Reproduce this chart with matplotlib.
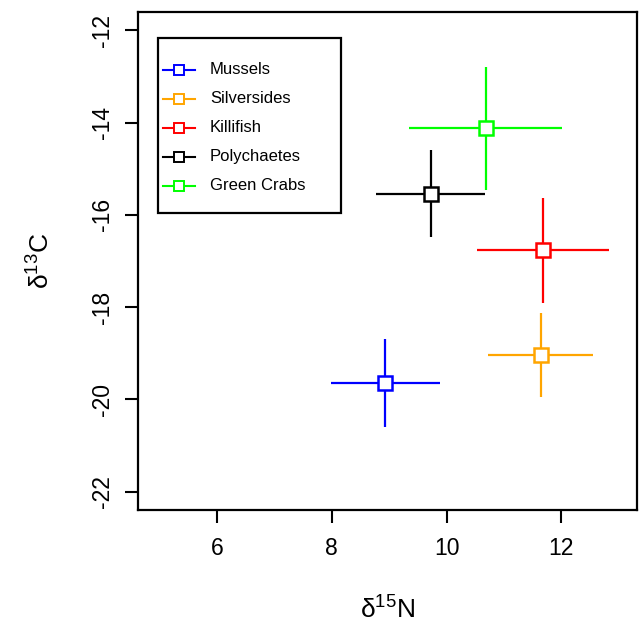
import matplotlib
matplotlib.use('Agg')
import matplotlib.pyplot as plt
from matplotlib.lines import Line2D
from matplotlib.patches import Rectangle

plt.rcParams['font.family'] = ['Liberation Sans', 'DejaVu Sans']

# Stable isotope means and spread per group
groups = ['Mussels', 'Silversides', 'Killifish', 'Polychaetes', 'Green Crabs']
colors = ['#0000FF', '#FFA500', '#FF0000', '#000000', '#00FF00']
d15n = [8.93, 11.64, 11.68, 9.72, 10.68]
d13c = [-19.65, -19.04, -16.77, -15.54, -14.12]
n_err = [0.95, 0.92, 1.15, 0.95, 1.33]
c_err = [0.96, 0.92, 1.14, 0.95, 1.33]

xticks = [6, 8, 10, 12]
yticks = [-12, -14, -16, -18, -20, -22]

fig = plt.figure(figsize=(6.4, 6.24), dpi=100)
ax = fig.add_axes([0.2156, 0.1827, 0.7797, 0.7981])

# Draw error crosses with open square markers
for i in range(len(groups)):
    ax.errorbar(d15n[i], d13c[i], xerr=n_err[i], yerr=c_err[i],
                fmt='s', color=colors[i], ecolor=colors[i], elinewidth=1.6,
                capsize=0, markersize=10.5, markerfacecolor='white',
                markeredgewidth=1.8, markeredgecolor=colors[i], zorder=3)

# Axis limits (R style padding)
ax.set_xlim(4.62, 13.32)
ax.set_ylim(-22.4, -11.6)
ax.set_xticks(xticks)
ax.set_yticks(yticks)
ax.set_yticklabels([str(t) for t in yticks], rotation=90, va='center')
ax.tick_params(axis='both', labelsize=16.5, length=9.5, width=1.5)
ax.tick_params(axis='x', pad=10)
ax.tick_params(axis='y', pad=8)

for s in ax.spines.values():
    s.set_linewidth(1.6)

ax.set_xlabel(r'$\mathregular{\delta^{15}N}$', fontsize=19, labelpad=26)
ax.set_ylabel(r'$\mathregular{\delta^{13}C}$', fontsize=19, labelpad=26)

# R-style legend box drawn in axes fraction
tr = ax.transAxes
ax.add_patch(Rectangle((0.0401, 0.5964), 0.3667, 0.3514, transform=tr,
                       fill=False, edgecolor='black', linewidth=1.6, zorder=4))
y0, step = 0.8835, 0.0582
for i, (g, c) in enumerate(zip(groups, colors)):
    yy = y0 - i * step
    ax.add_line(Line2D([0.0501, 0.1142], [yy, yy], transform=tr, color=c, lw=1.5, zorder=4))
    ax.add_line(Line2D([0.0822], [yy], transform=tr, color=c, marker='s', markersize=7,
                       markerfacecolor='white', markeredgewidth=1.4, zorder=5))
    ax.text(0.1443, yy, g, transform=tr, fontsize=12, va='center', ha='left', zorder=5)

fig.savefig('out.png', dpi=100)
